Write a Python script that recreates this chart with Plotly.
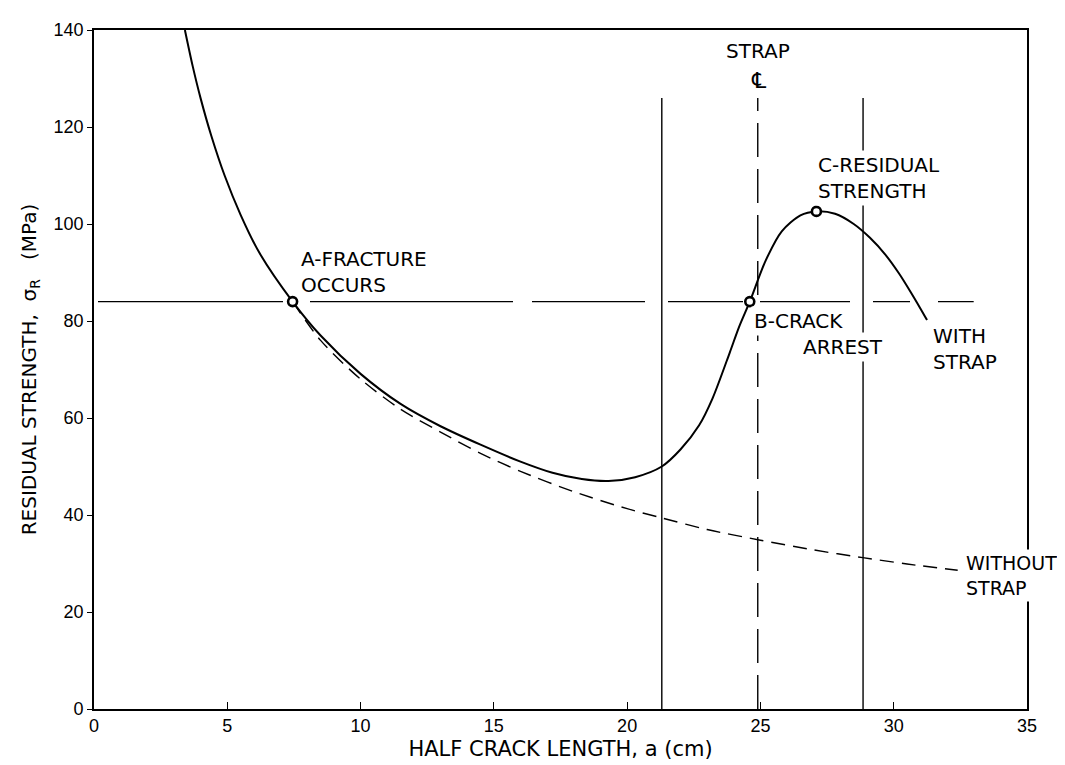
import plotly.graph_objects as go

# ---- data ----
with_strap_x = [3.41, 3.7, 4.0, 4.4, 4.9, 5.5, 6.2, 7.45, 8.5, 10, 11.5, 13, 14.5, 16, 17.2, 18.3,
                19.3, 20.3, 21.3, 22.0, 22.7, 23.2, 23.85, 24.2, 24.6, 25.2, 25.8, 26.5, 27.1,
                27.8, 28.5, 29.1, 29.7, 30.2, 30.6, 31.0, 31.25]
with_strap_y = [140, 132.6, 125.9, 118.2, 110.0, 101.9, 94.1, 84, 77, 69.1, 62.9, 58.3, 54.5, 51,
                48.7, 47.4, 47.0, 47.8, 50.0, 53.5, 58.5, 64, 73.5, 78.8, 84, 92.5, 98.5, 101.8,
                102.6, 102.1, 100.0, 97.2, 93.6, 89.8, 86.3, 82.6, 80.2]

without_strap_x = [7.45, 8.5, 10, 11.5, 13, 14.5, 16, 18, 20, 21.3, 23, 25, 27, 28.84, 30.5, 32.4]
without_strap_y = [84, 76, 68, 61.8, 57.1, 52.7, 49, 44.8, 41.3, 39.4, 37, 34.8, 32.8, 31.2, 29.9, 28.6]

fracture_level = 84          # MPa, horizontal reference line
fracture_line_x = [0.15, 33.0]

strap_edges_x = [21.3, 28.85]  # solid vertical lines
strap_cl_x = 24.9              # strap centre line (dashed)
strap_line_top = 126

points_name = ["A", "B", "C"]
points_x = [7.45, 24.6, 27.1]
points_y = [84, 84, 102.6]

x_ticks = [0, 5, 10, 15, 20, 25, 30, 35]
y_ticks = [0, 20, 40, 60, 80, 100, 120, 140]

TXT = "DejaVu Sans"
NUM = "Liberation Sans"
FS = 20

fig = go.Figure()

# vertical strap lines
for xv in strap_edges_x:
    fig.add_trace(go.Scatter(x=[xv, xv], y=[0, strap_line_top], mode="lines",
                             line=dict(color="black", width=1.4), showlegend=False, hoverinfo="skip"))
fig.add_trace(go.Scatter(x=[strap_cl_x, strap_cl_x], y=[0, strap_line_top], mode="lines",
                         line=dict(color="black", width=1.4, dash="34px,12px"),
                         showlegend=False, hoverinfo="skip"))

# horizontal fracture-stress line (hand-drawn broken pattern)
fig.add_trace(go.Scatter(x=fracture_line_x, y=[fracture_level, fracture_level], mode="lines",
                         line=dict(color="black", width=1.4,
                                   dash="185px,27px,203px,19px,113px,23px,75px,17px,90px,23px,37px,28px,40px"),
                         showlegend=False, hoverinfo="skip"))

# curves
fig.add_trace(go.Scatter(x=without_strap_x, y=without_strap_y, mode="lines",
                         line=dict(color="black", width=1.4, dash="14px,8px", shape="spline", smoothing=0.8),
                         showlegend=False, hoverinfo="skip"))
fig.add_trace(go.Scatter(x=with_strap_x, y=with_strap_y, mode="lines",
                         line=dict(color="black", width=2, shape="spline", smoothing=0.8),
                         showlegend=False, hoverinfo="skip"))

# marked points
fig.add_trace(go.Scatter(x=points_x, y=points_y, mode="markers", text=points_name,
                         marker=dict(symbol="circle", size=9, color="white",
                                     line=dict(color="black", width=2.6)),
                         showlegend=False, hoverinfo="skip"))


def label(x, y, text, xanchor="left", bg=None, size=FS):
    fig.add_annotation(x=x, y=y, xref="x", yref="y", text=text, showarrow=False,
                       xanchor=xanchor, yanchor="middle",
                       align=xanchor if xanchor != "center" else "center",
                       font=dict(family=TXT, size=size, color="black"), bgcolor=bg, borderpad=2)


label(7.65, 90.1, "A-FRACTURE<br>OCCURS")
label(strap_cl_x, 135.6, "STRAP", xanchor="center")
label(strap_cl_x + 0.05, 129.6, "\u2104", xanchor="center", size=22)
label(27.05, 109.5, "C-RESIDUAL<br>STRENGTH", bg="white")
label(24.65, 79.9, "B-CRACK", bg="white")
label(26.5, 74.6, "ARREST", bg="white")
label(31.35, 74.3, "WITH<br>STRAP", bg="white")
label(32.6, 27.6, "WITHOUT<br>STRAP", bg="white", size=19)

fig.update_layout(
    width=1065, height=765,
    margin=dict(l=86, r=46, t=13, b=64),
    paper_bgcolor="white", plot_bgcolor="white",
    showlegend=False,
    font=dict(family=TXT, size=FS, color="black"),
)
fig.update_xaxes(range=[0, 35], tickvals=x_ticks, ticktext=[str(v) for v in x_ticks],
                 showgrid=False, zeroline=False, showline=True, mirror=True,
                 linecolor="black", linewidth=1.6, ticks="inside", ticklen=7, tickwidth=1.4,
                 tickcolor="black", tickfont=dict(family=NUM, size=18, color="black"),
                 title=dict(text="HALF CRACK LENGTH, a (cm)", standoff=6,
                            font=dict(family=TXT, size=21, color="black")))
fig.update_yaxes(range=[0, 140], tickvals=y_ticks, ticktext=[str(v) for v in y_ticks],
                 showgrid=False, zeroline=False, showline=True, mirror=True,
                 linecolor="black", linewidth=1.6, ticks="outside", ticklen=5, tickwidth=1.4,
                 tickcolor="black", tickfont=dict(family=NUM, size=18, color="black"),
                 title=dict(text="RESIDUAL STRENGTH,  \u03c3<sub>R</sub>   (MPa)", standoff=12,
                            font=dict(family=TXT, size=20, color="black")))

fig.write_html("out.html")
